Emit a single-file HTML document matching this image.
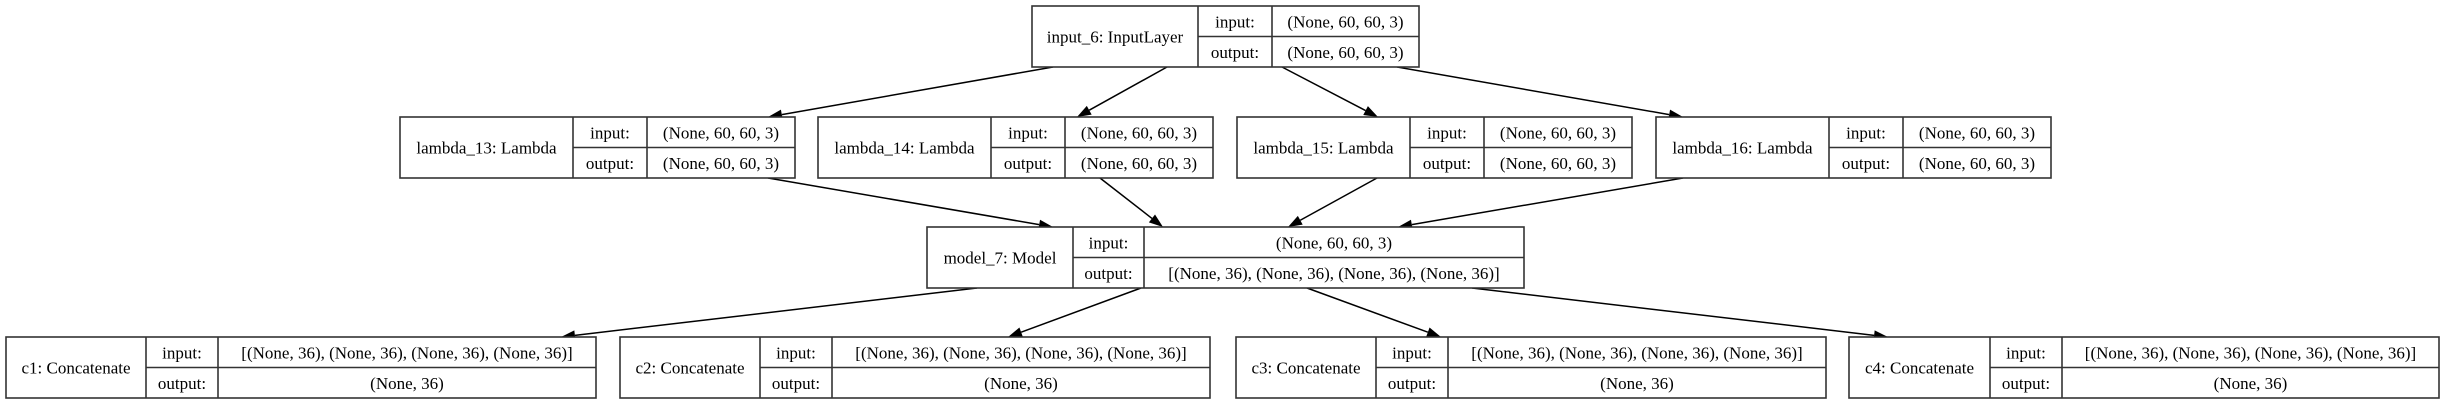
<!DOCTYPE html>
<html><head><meta charset="utf-8"><style>
html,body{margin:0;padding:0;background:#fff;width:2451px;height:405px;overflow:hidden}
svg{display:block}
text{font-family:"Liberation Serif",serif;font-size:17px;fill:#000}
</style></head><body>
<svg id="g" width="2451" height="405"></svg>
<script>
const nodeNames=["input_6: InputLayer","lambda_13: Lambda","lambda_14: Lambda","lambda_15: Lambda","lambda_16: Lambda","model_7: Model","c1: Concatenate","c2: Concatenate","c3: Concatenate","c4: Concatenate"];
const nodeInputs=["(None, 60, 60, 3)","(None, 60, 60, 3)","(None, 60, 60, 3)","(None, 60, 60, 3)","(None, 60, 60, 3)","(None, 60, 60, 3)","[(None, 36), (None, 36), (None, 36), (None, 36)]","[(None, 36), (None, 36), (None, 36), (None, 36)]","[(None, 36), (None, 36), (None, 36), (None, 36)]","[(None, 36), (None, 36), (None, 36), (None, 36)]"];
const nodeOutputs=["(None, 60, 60, 3)","(None, 60, 60, 3)","(None, 60, 60, 3)","(None, 60, 60, 3)","(None, 60, 60, 3)","[(None, 36), (None, 36), (None, 36), (None, 36)]","(None, 36)","(None, 36)","(None, 36)","(None, 36)"];
const boxes=[[1032,6,1419,1198,1272],[400,117,795,573,647],[818,117,1213,991,1065],[1237,117,1632,1410,1484],[1656,117,2051,1829,1903],[927,227,1524,1073,1144],[6,337,596,146,218],[620,337,1210,760,832],[1236,337,1826,1376,1448],[1849,337,2439,1990,2062]];
const edges=[[1053,67,768,117],[1167,67,1077,117],[1282,67,1378,117],[1397,67,1683,117],[768,178,1053,227],[1100,178,1163,227],[1377,178,1288,227],[1683,178,1398,227],[977,288,561,337],[1141,288,1008,337],[1307,288,1441,337],[1472,288,1888,337]];
const NS="http://www.w3.org/2000/svg",svg=document.getElementById('g');
function mk(t,a){const e=document.createElementNS(NS,t);for(const k in a)e.setAttribute(k,a[k]);svg.appendChild(e);return e;}
edges.forEach((d,i)=>{const[x1,y1,x2,y2]=d;const dx=x2-x1,dy=y2-y1,L=Math.hypot(dx,dy),ux=dx/L,uy=dy/L;const bx=x2-ux*14,by=y2-uy*14;
const l=mk('line',{x1:x1,y1:y1,x2:bx,y2:by,stroke:'#000','stroke-width':1.5});


const p=mk('polygon',{points:`${x2},${y2} ${bx-uy*5},${by+ux*5} ${bx+uy*5},${by-ux*5}`,fill:'#000'});

});
boxes.forEach((b,i)=>{const[x0,y0,x1,c1,c2]=b,h=61,ym=y0+h/2;
const g=document.createElementNS(NS,'g');svg.appendChild(g);


const add=(t,a,txt)=>{const e=document.createElementNS(NS,t);for(const k in a)e.setAttribute(k,a[k]);if(txt)e.textContent=txt;g.appendChild(e);return e;};
add('rect',{x:x0,y:y0,width:x1-x0,height:h,fill:'#fff',stroke:'#333','stroke-width':1.6});
add('line',{x1:c1,y1:y0,x2:c1,y2:y0+h,stroke:'#333','stroke-width':1.6});
add('line',{x1:c2,y1:y0,x2:c2,y2:y0+h,stroke:'#333','stroke-width':1.6});
add('line',{x1:c1,y1:ym,x2:x1,y2:ym,stroke:'#333','stroke-width':1.6});
add('text',{x:(x0+c1)/2,y:ym+6,'text-anchor':'middle'},nodeNames[i]);
add('text',{x:(c1+c2)/2,y:y0+h/4+6,'text-anchor':'middle'},'input:');
add('text',{x:(c1+c2)/2,y:y0+3*h/4+6,'text-anchor':'middle'},'output:');
add('text',{x:(c2+x1)/2,y:y0+h/4+6,'text-anchor':'middle'},nodeInputs[i]);
add('text',{x:(c2+x1)/2,y:y0+3*h/4+6,'text-anchor':'middle'},nodeOutputs[i]);});
</script>
</body></html>
